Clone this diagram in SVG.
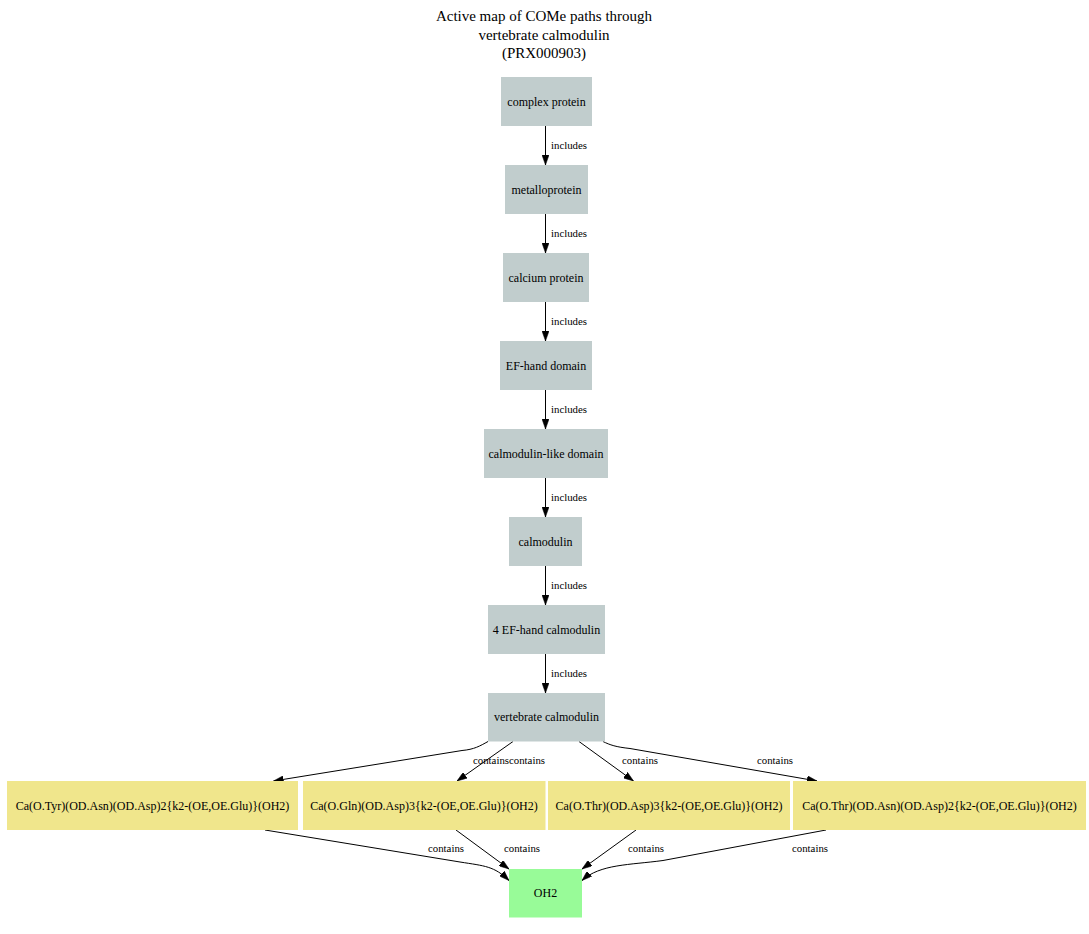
<svg xmlns="http://www.w3.org/2000/svg" width="1089" height="934" viewBox="0 0 1089 934">
<style>
  text { font-family: "Liberation Serif", "Times New Roman", serif; fill: #000; }
  .title { font-size: 15px; text-anchor: middle; }
  .nl { font-size: 12px; text-anchor: middle; }
  .el { font-size: 10.8px; }
  .elm { font-size: 10.8px; text-anchor: middle; }
  .gray { fill: #c1cdcd; }
  .khaki { fill: #f0e68c; }
  .green { fill: #98fb98; }
  .edge { fill: none; stroke: #000; stroke-width: 1; marker-end: url(#arrow); }
</style>
<defs>
  <marker id="arrow" viewBox="0 0 10 7" refX="10" refY="3.5" markerWidth="10" markerHeight="7" markerUnits="userSpaceOnUse" orient="auto">
    <path d="M0,0 L10,3.5 L0,7 z" fill="#000" stroke="#000" stroke-width="0.5"/>
  </marker>
</defs>
<rect width="1089" height="934" fill="#fff"/>
<g id="title">
  <text class="title" x="544" y="21">Active map of COMe paths through</text>
  <text class="title" x="544" y="39.5">vertebrate calmodulin</text>
  <text class="title" x="544" y="57.5">(PRX000903)</text>
</g>
<g id="edges">
  <path class="edge" d="M545.5,126 L545.5,165"/>
  <text class="el" x="551" y="149">includes</text>
  <path class="edge" d="M545.5,214 L545.5,253"/>
  <text class="el" x="551" y="237">includes</text>
  <path class="edge" d="M545.5,302 L545.5,341"/>
  <text class="el" x="551" y="325">includes</text>
  <path class="edge" d="M545.5,390 L545.5,429"/>
  <text class="el" x="551" y="413">includes</text>
  <path class="edge" d="M545.5,478 L545.5,517"/>
  <text class="el" x="551" y="501">includes</text>
  <path class="edge" d="M545.5,566 L545.5,605"/>
  <text class="el" x="551" y="589">includes</text>
  <path class="edge" d="M545.5,654 L545.5,693"/>
  <text class="el" x="551" y="677">includes</text>

  <path class="edge" d="M488,741.5 C480,746 474,749.5 462,750.5 L273.5,781"/>
  <text class="elm" x="491" y="764">contains</text>
  <path class="edge" d="M513,741.5 L457,781"/>
  <text class="elm" x="527" y="764">contains</text>
  <path class="edge" d="M579,741.5 L633.5,781"/>
  <text class="elm" x="640" y="764">contains</text>
  <path class="edge" d="M603,741.5 C610,745 616,747 630,748.5 L817,781"/>
  <text class="elm" x="775" y="764">contains</text>

  <path class="edge" d="M265,830 L460,862 C485,866 494,866 509,880.5"/>
  <text class="elm" x="446" y="852">contains</text>
  <path class="edge" d="M456,830 L509,869"/>
  <text class="elm" x="522" y="852">contains</text>
  <path class="edge" d="M636,830 L582,869"/>
  <text class="elm" x="646" y="852">contains</text>
  <path class="edge" d="M826,830 L663,860.5 C630,865 600,864 582,880.5"/>
  <text class="elm" x="810" y="852">contains</text>
</g>
<g id="n_complex_protein">
  <rect class="gray" x="501" y="77" width="91" height="49"/>
  <text class="nl" x="546.5" y="105.5">complex protein</text>
</g>
<g id="n_metalloprotein">
  <rect class="gray" x="505" y="165" width="83" height="49"/>
  <text class="nl" x="546.5" y="193.5">metalloprotein</text>
</g>
<g id="n_calcium_protein">
  <rect class="gray" x="503" y="253" width="86" height="49"/>
  <text class="nl" x="546" y="281.5">calcium protein</text>
</g>
<g id="n_ef_hand_domain">
  <rect class="gray" x="500" y="341" width="92" height="49"/>
  <text class="nl" x="546" y="369.5">EF-hand domain</text>
</g>
<g id="n_calmodulin_like_domain">
  <rect class="gray" x="484" y="429" width="124" height="49"/>
  <text class="nl" x="546" y="457.5">calmodulin-like domain</text>
</g>
<g id="n_calmodulin">
  <rect class="gray" x="509" y="517" width="73" height="49"/>
  <text class="nl" x="545.5" y="545.5">calmodulin</text>
</g>
<g id="n_4_ef_hand_calmodulin">
  <rect class="gray" x="488" y="605" width="117" height="49"/>
  <text class="nl" x="546.5" y="633.5">4 EF-hand calmodulin</text>
</g>
<g id="n_vertebrate_calmodulin">
  <rect class="gray" x="488" y="693" width="117" height="48.5"/>
  <text class="nl" x="546.5" y="721">vertebrate calmodulin</text>
</g>
<g id="n_ca_tyr">
  <rect class="khaki" x="7" y="781" width="291" height="49"/>
  <text class="nl" x="152.5" y="809.5">Ca(O.Tyr)(OD.Asn)(OD.Asp)2{k2-(OE,OE.Glu)}(OH2)</text>
</g>
<g id="n_ca_gln">
  <rect class="khaki" x="303" y="781" width="242.5" height="49"/>
  <text class="nl" x="424" y="809.5">Ca(O.Gln)(OD.Asp)3{k2-(OE,OE.Glu)}(OH2)</text>
</g>
<g id="n_ca_thr_asp3">
  <rect class="khaki" x="548" y="781" width="242" height="49"/>
  <text class="nl" x="669" y="809.5">Ca(O.Thr)(OD.Asp)3{k2-(OE,OE.Glu)}(OH2)</text>
</g>
<g id="n_ca_thr_asn">
  <rect class="khaki" x="793" y="781" width="293" height="49"/>
  <text class="nl" x="939.5" y="809.5">Ca(O.Thr)(OD.Asn)(OD.Asp)2{k2-(OE,OE.Glu)}(OH2)</text>
</g>
<g id="n_oh2">
  <rect class="green" x="509" y="869" width="73" height="48.5"/>
  <text class="nl" x="545.5" y="897">OH2</text>
</g>
</svg>
